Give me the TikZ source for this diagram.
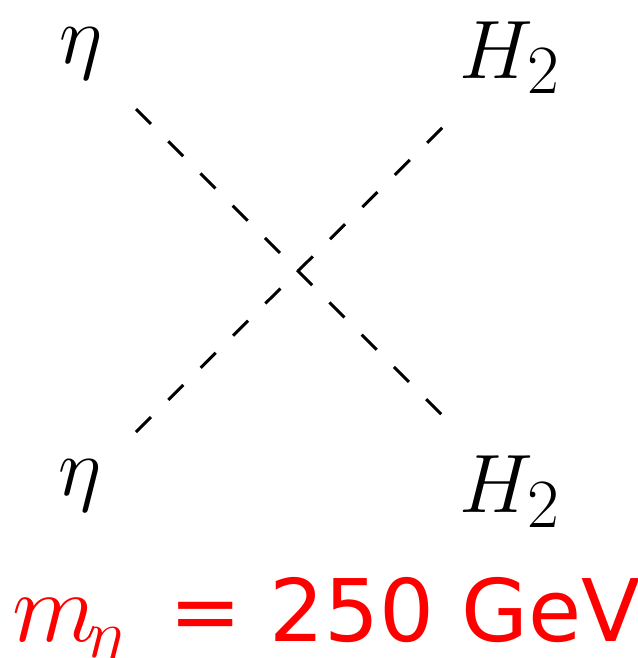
\documentclass[tikz,border=0pt]{standalone}
\usepackage{fontspec}
\newfontfamily\dejavu{DejaVu Sans}
\begin{document}
\begin{tikzpicture}[x=0.25pt,y=-0.25pt,
  scalar/.style={black,line width=0.75pt,dash pattern=on 5.3pt off 6.1pt},
  lbl/.style={inner sep=0pt,font=\fontsize{22.7}{27}\selectfont},
  masslbl/.style={inner sep=0pt,red}]
\useasboundingbox (0,0) rectangle (637,658);
% line end points
\coordinate (a1) at (136,109);
\coordinate (b1) at (444,417);
\coordinate (a2) at (136,432);
\coordinate (b2) at (445,125);
\draw[scalar] (a1) -- (b1);
\draw[scalar] (a2) -- (b2);
% labels
\node[lbl] (etaTop) at (81,54) {$\eta$};
\node[lbl,anchor=base west] (hTop) at (459,78) {$H_2$};
\node[lbl] (etaBot) at (80,486) {$\eta$};
\node[lbl,anchor=base west] (hBot) at (459,512) {$H_2$};
\node[masslbl,anchor=base west] (mass) at (12,641)
  {\makebox[39.25pt][l]{\fontsize{27}{32}\selectfont$m$\kern-2.6pt\raisebox{-4pt}{\fontsize{17}{20}\selectfont$\eta$}}%
   {\dejavu\fontsize{21.6}{26}\selectfont= 250 GeV}};
\end{tikzpicture}
\end{document}
